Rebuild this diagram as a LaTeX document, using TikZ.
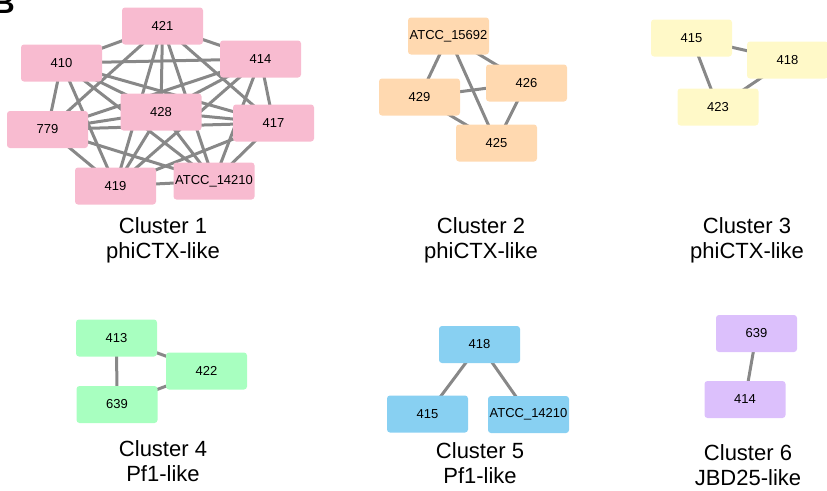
\documentclass[tikz,border=0pt]{standalone}
\usepackage{fontspec}
\setmainfont{Liberation Sans}
\usetikzlibrary{backgrounds}
\definecolor{edge}{HTML}{888888}
\definecolor{rosy}{HTML}{F8BBD0}
\definecolor{peach}{HTML}{FFD9B0}
\definecolor{lemon}{HTML}{FFF9C8}
\definecolor{mint}{HTML}{A8FFC0}
\definecolor{sky}{HTML}{88D0F2}
\definecolor{lilac}{HTML}{DCC0FC}

\begin{document}
\begin{tikzpicture}[x=1pt,y=-1pt,
  phage/.style={rounded corners=3pt,minimum width=81pt,minimum height=37pt,
    inner sep=0pt,font=\fontsize{13}{13}\selectfont},
  link/.style={draw=edge,line width=3pt},
  caption/.style={align=center,inner sep=0pt,font=\fontsize{22}{25}\selectfont}]
  \useasboundingbox (0,0) rectangle (827,490);
  \node[anchor=south east,inner sep=0pt,font=\bfseries\fontsize{30}{30}\selectfont]
    (panel) at (15,14) {B};
  % Cluster 1
  \node[phage,fill=rosy] (k1-1) at (162.5,26) {421};
  \node[phage,fill=rosy] (k1-2) at (61.5,63) {410};
  \node[phage,fill=rosy] (k1-3) at (260.5,59) {414};
  \node[phage,fill=rosy] (k1-4) at (161,112) {428};
  \node[phage,fill=rosy] (k1-5) at (47.5,129.5) {779};
  \node[phage,fill=rosy] (k1-6) at (273.5,123) {417};
  \node[phage,fill=rosy] (k1-7) at (115.5,186) {419};
  \node[phage,fill=rosy] (k1-8) at (214,181) {ATCC\_14210};
  \node[caption] (cap1) at (163,240) {Cluster 1\\phiCTX-like};
  % Cluster 2
  \node[phage,fill=peach] (k2-1) at (448.5,36) {ATCC\_15692};
  \node[phage,fill=peach] (k2-2) at (419.5,97) {429};
  \node[phage,fill=peach] (k2-3) at (526.5,83) {426};
  \node[phage,fill=peach] (k2-4) at (496.5,143) {425};
  \node[caption] (cap2) at (481,240) {Cluster 2\\phiCTX-like};
  % Cluster 3
  \node[phage,fill=lemon] (k3-1) at (691.5,38) {415};
  \node[phage,fill=lemon] (k3-2) at (787.5,60) {418};
  \node[phage,fill=lemon] (k3-3) at (718,107) {423};
  \node[caption] (cap3) at (747,240) {Cluster 3\\phiCTX-like};
  % Cluster 4
  \node[phage,fill=mint] (k4-1) at (116.5,338) {413};
  \node[phage,fill=mint] (k4-2) at (206.5,371) {422};
  \node[phage,fill=mint] (k4-3) at (117,404.5) {639};
  \node[caption] (cap4) at (163,461) {Cluster 4\\Pf1-like};
  % Cluster 5
  \node[phage,fill=sky] (k5-1) at (479.5,344.5) {418};
  \node[phage,fill=sky] (k5-2) at (427.5,414) {415};
  \node[phage,fill=sky] (k5-3) at (528.5,414.5) {ATCC\_14210};
  \node[caption] (cap5) at (480,463) {Cluster 5\\Pf1-like};
  % Cluster 6
  \node[phage,fill=lilac] (k6-1) at (756.5,333.5) {639};
  \node[phage,fill=lilac] (k6-2) at (745,399.5) {414};
  \node[caption] (cap6) at (748,465) {Cluster 6\\JBD25-like};
  \begin{scope}[on background layer]
    \foreach \i in {1,...,7}{
      \pgfmathtruncatemacro\nxt{\i+1}
      \foreach \j in {\nxt,...,8}
        \draw[link] (k1-\i.center)--(k1-\j.center);
    }
    \foreach \a/\b in {1/2,1/3,1/4,2/3,2/4,3/4}
      \draw[link] (k2-\a.center)--(k2-\b.center);
    \foreach \a/\b in {1/2,1/3,2/3}{
      \draw[link] (k3-\a.center)--(k3-\b.center);
      \draw[link] (k4-\a.center)--(k4-\b.center);
    }
    \draw[link] (k5-1.center)--(k5-2.center);
    \draw[link] (k5-1.center)--(k5-3.center);
    \draw[link] (k6-1.center)--(k6-2.center);
  \end{scope}
\end{tikzpicture}
\end{document}
